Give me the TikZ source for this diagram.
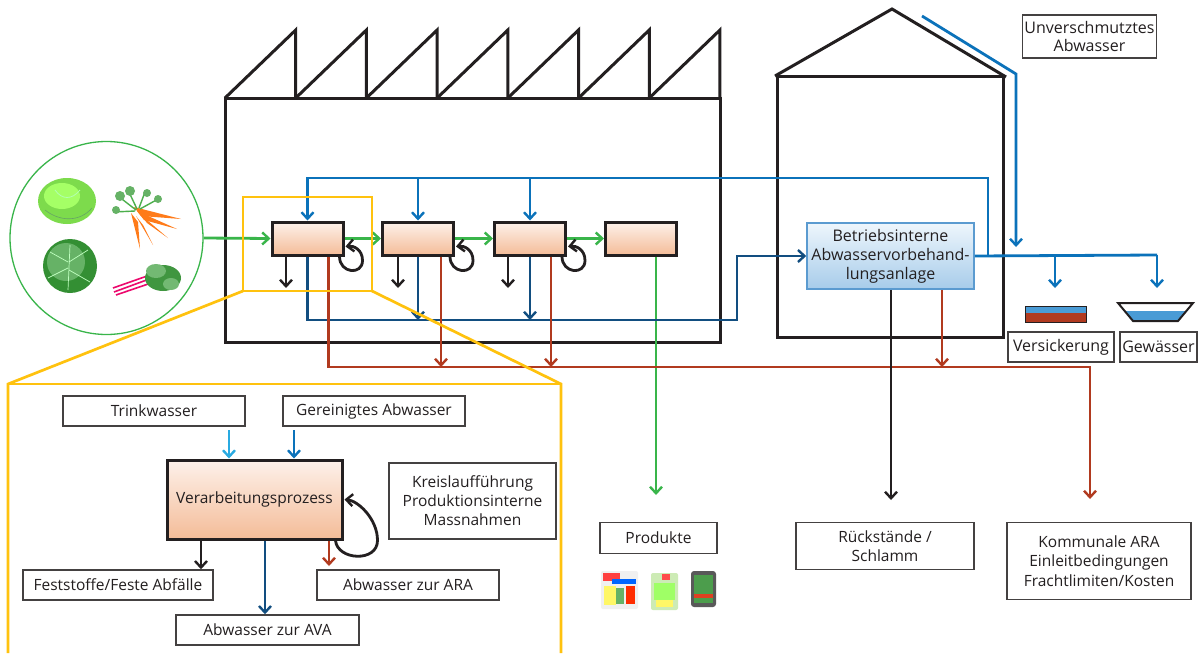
\documentclass[tikz,border=0pt]{standalone}
\usepackage{fontspec}
\setmainfont{Open Sans}
\usetikzlibrary{arrows.meta}
\definecolor{txt}{HTML}{231F20}
\definecolor{cgreen}{HTML}{39B54A}
\definecolor{cblue}{HTML}{0B72BA}
\definecolor{cdblue}{HTML}{124E80}
\definecolor{cred}{HTML}{B13A1F}
\definecolor{clblue}{HTML}{29AAE1}
\definecolor{cyellow}{HTML}{FFC20E}
\definecolor{ptop}{HTML}{FDF1EA}
\definecolor{pbot}{HTML}{F4BC98}
\definecolor{btop}{HTML}{EEF6FC}
\definecolor{bbot}{HTML}{A7CCEA}
\definecolor{bdraw}{HTML}{5B9BD0}
\definecolor{wblue}{HTML}{4A9BD5}
\tikzset{
  every node/.style={font=\fontsize{15.5}{19}\selectfont, text=txt},
  arr/.style={-{Straight Barb[length=6.5pt,width=12pt,line width=2.4pt]}},
  ln/.style={line width=2.8pt},
  grn/.style={ln, draw=cgreen},
  blu/.style={ln, draw=cblue},
  dbl/.style={ln, draw=cdblue},
  rd/.style={ln, draw=cred},
  blk/.style={ln, draw=txt},
  lbl/.style={ln, draw=clblue},
  bld/.style={line width=3pt, draw=txt, line join=miter},
  proc/.style={draw=txt, line width=3pt, top color=ptop, bottom color=pbot, minimum width=71, minimum height=33, inner sep=0pt},
  tbox/.style={draw=txt!85, line width=1.5pt, fill=white, inner sep=2pt, align=center},
  yel/.style={line width=2.7pt, draw=cyellow}
}
\begin{document}
\begin{tikzpicture}[x=1pt,y=-1pt]
\useasboundingbox (0,0) rectangle (1198,653);
\fill[white] (0,0) rectangle (1198,653);

% ---------- buildings ----------
\foreach \i in {0,...,6} {
  \draw[bld] ({225+70.71*\i},98) -- ({225+70.71*(\i+1)},30) -- ({225+70.71*(\i+1)},98);
}
\draw[bld] (225,98) rectangle (720,342);
\draw[bld] (777,76) rectangle (1003,337);
\draw[bld] (775,76) -- (892,9) -- (1006,77);

% ---------- vegetables ----------
\node[draw=cgreen, line width=1.3pt, circle, minimum size=193, inner sep=0pt] (veg) at (106.5,238) {};
% lettuce
\fill[green!55!lime!80!black!70] (67,201) ellipse (29 and 23);
\fill[green!45!lime!60] (62,196) ellipse (18 and 13);
\draw[green!30!white, line width=0.8pt] (55,190) .. controls (62,200) and (72,200) .. (80,190);
\draw[green!40!black!60, line width=0.6pt] (45,210) .. controls (60,222) and (80,222) .. (92,208);
% carrots
\foreach \dx/\dy/\ex/\ey in {0/0/181/219, 3/4/177/229, 6/7/168/238, 2/9/153/245, -3/6/140/249}{
  \fill[orange!85!red!90] ({134+\dx},{207+\dy}) -- ({141+\dx},{216+\dy}) -- (\ex,\ey) -- cycle;
}
\draw[green!55!black!70, line width=1.4pt] (136,210) -- (118,196) (137,209) -- (128,190) (139,208) -- (145,192) (140,209) -- (160,198) (135,211) -- (114,212);
\fill[green!50!black!60] (120,196) circle (5) (130,191) circle (5) (147,193) circle (4) (158,199) circle (4) (116,210) circle (4);
% savoy cabbage
\fill[green!45!black!80] (70,266) circle (27);
\fill[green!50!black!60] (66,262) circle (19);
\draw[green!25!white, line width=0.7pt] (70,245) -- (68,290) (68,262) -- (50,252) (68,268) -- (48,278) (69,262) -- (88,250) (69,270) -- (90,282);
% chard
\draw[magenta!70!red, line width=1.6pt] (114,292) -- (152,278) (116,295) -- (154,282) (113,288) -- (150,275);
\fill[green!45!black!75] (163,278) ellipse (18 and 13);
\fill[green!50!black!55] (156,271) ellipse (10 and 7) (171,284) ellipse (8 and 6);

% ---------- process boxes ----------
\node[proc] (p1) at (307.5,238.5) {};
\node[proc] (p2) at (418,238.5) {};
\node[proc] (p3) at (530,238.5) {};
\node[proc] (p4) at (641,238.5) {};

% green flow
\draw[grn,arr] (veg.east) -- (p1.west);
\draw[grn,arr] (p1.east) -- (p2.west);
\draw[grn,arr] (p2.east) -- (p3.west);
\draw[grn,arr] (p3.east) -- (p4.west);
\coordinate (prodArr) at (656,495);
\draw[grn,arr] (656,0 |- p4.south) -- (prodArr);

% self loops
\foreach \p in {p1,p2,p3}{
  \draw[blk,arr] ([xshift=-5pt]\p.south east)
     .. controls ([shift={(-5pt,-17pt)}]\p.south east) and ([shift={(18pt,-19pt)}]\p.south east)
     .. ([shift={(18pt,-4pt)}]\p.south east)
     .. controls ([shift={(18pt,7pt)}]\p.south east) and ([shift={(9pt,11pt)}]\p.south east)
     .. ([shift={(1pt,10pt)}]\p.south east);
}

% black solid waste arrows
\foreach \p/\x in {p1/286,p2/398,p3/508}{
  \draw[blk,arr] (\x,0 |- \p.south) -- (\x,288);
}

% ---------- Betriebsinterne box ----------
\node[draw=bdraw, line width=1.5pt, top color=btop, bottom color=bbot, minimum width=167, minimum height=66, inner sep=0pt, align=center, font=\fontsize{16}{19}\selectfont] (betr) at (890.5,256) {Betriebsinterne\\Abwasservorbehand-\\lungsanlage};

% dark blue collection
\draw[dbl,arr] (p1.south) |- (737,320) |- (betr.west);
\draw[dbl,arr] (p2.south) -- (p2.south |- 0,320);
\draw[dbl,arr] (p3.south) -- (p3.south |- 0,320);

% blue recycled water
\draw[blu,arr] (988,0 |- betr.east) -- (988,178) -- (307.5,178) -- (p1.north);
\draw[blu,arr] (418,178) -- (p2.north);
\draw[blu,arr] (530,178) -- (p3.north);

% outlet
\draw[blu] (betr.east) -- (1157,255);
\coordinate (versArr) at (1055,288);
\coordinate (gewArr) at (1157,288);
\draw[blu,arr] (1055,255) -- (versArr);
\draw[blu,arr] (1157,255) -- (gewArr);

% unpolluted
\node[tbox, minimum width=133, minimum height=43, font=\fontsize{16}{18.5}\selectfont] (unv) at (1089.5,36.5) {Unverschmutztes\\Abwasser};
\coordinate (unvArr) at (1016,247);
\draw[blu,arr] (922,16) -- (1016,74) -- (unvArr);

% icons
\fill[cred] (1025,313) rectangle (1086,322);
\fill[wblue] (1025,306) rectangle (1086,313);
\draw[txt, line width=1pt] (1025,306) rectangle (1086,322);
\fill[wblue] (1125,311) -- (1186,311) -- (1178,321) -- (1133,321) -- cycle;
\draw[txt, line width=2pt, line join=miter] (1118,303) -- (1193,303) -- (1178,321) -- (1133,321) -- cycle;

\node[tbox, minimum width=106, minimum height=30, font=\fontsize{16}{19}\selectfont] (vers) at (1061,347) {Versickerung};
\node[tbox, minimum width=77, minimum height=30, font=\fontsize{16}{19}\selectfont] (gew) at (1158.5,347) {Gewässer};

% red to ARA
\coordinate (r1) at ([xshift=21pt]p1.south);
\coordinate (r2) at ([xshift=23pt]p2.south);
\coordinate (r3) at ([xshift=21pt]p3.south);
\coordinate (komArr) at (1090,499);
\draw[rd,arr] (r1) |- (1090,367) -- (komArr);
\draw[rd,arr] (r2) -- (r2 |- 0,367);
\draw[rd,arr] (r3) -- (r3 |- 0,367);
\draw[rd,arr] (942,0 |- betr.south) -- (942,367);

% black to sludge
\coordinate (rueArr) at (891,500);
\draw[blk,arr] (891,0 |- betr.south) -- (rueArr);

% bottom right boxes
\node[tbox, minimum width=117, minimum height=31] (prod) at (658.5,538) {Produkte};
\node[tbox, minimum width=178, minimum height=47, font=\fontsize{15.5}{18.5}\selectfont] (rueck) at (885,546) {Rückstände /\\Schlamm};
\node[tbox, minimum width=184, minimum height=77, font=\fontsize{15.5}{19.5}\selectfont] (komm) at (1099,561) {Kommunale ARA\\Einleitbedingungen\\Frachtlimiten/Kosten};

% product packs
\fill[gray!12, rounded corners=2pt] (601,571) rectangle (638,609);
\fill[red!75] (603,573) rectangle (620,581);
\fill[blue!60!cyan] (612,579) rectangle (636,584);
\fill[yellow!60!white] (604,586) rectangle (616,605);
\fill[green!50!black!60] (616,588) rectangle (624,604);
\fill[red!65!orange] (626,586) rectangle (635,604);
\fill[yellow!35!green!30, rounded corners=2pt] (651,573) rectangle (678,610);
\fill[red!70] (662,574) rectangle (670,580);
\fill[green!50!lime!60] (654,583) rectangle (675,600);
\fill[yellow!60] (656,600) rectangle (673,607);
\fill[gray!70!black, rounded corners=3pt] (691,571) rectangle (716,607);
\fill[green!45!black!70] (694,575) rectangle (713,603);
\fill[red!50!brown] (694,594) rectangle (713,598);

% ---------- yellow zoom ----------
\draw[yel] (243,197) rectangle (372,291);
\draw[yel] (243,291) -- (8,384) -- (8,653);
\draw[yel] (372,291) -- (561,384) -- (561,653);
\draw[yel] (8,384) -- (561,384);

% ---------- inset ----------
\node[tbox, minimum width=182, minimum height=30] (trink) at (154,411) {Trinkwasser};
\node[tbox, minimum width=182, minimum height=30] (gerein) at (374,411) {Gereinigtes Abwasser};
\node[proc, minimum width=175, minimum height=79, align=center] (verarb) at (254.5,499.5) {Verarbeitungsprozess};
\node[tbox, minimum width=167, minimum height=76] (kreis) at (472.5,501) {Kreislaufführung\\Produktionsinterne\\Massnahmen};
\node[tbox, minimum width=190, minimum height=30] (fest) at (118,585) {Feststoffe/Feste Abfälle};
\node[tbox, minimum width=182, minimum height=30] (ara) at (408,585) {Abwasser zur ARA};
\node[tbox, minimum width=183, minimum height=30] (ava) at (267.5,630) {Abwasser zur AVA};

\draw[lbl,arr] (229,430) -- (229,0 |- verarb.north);
\draw[blu,arr] (294,430) -- (294,0 |- verarb.north);
\draw[blk,arr] (201,0 |- verarb.south) -- (201,0 |- fest.north);
\draw[dbl,arr] (265,0 |- verarb.south) -- (265,0 |- ava.north);
\draw[rd,arr] (329,0 |- verarb.south) -- (329,566);
\draw[blk,arr] ([xshift=-8pt]verarb.south east)
   .. controls ([shift={(-6pt,-20pt)}]verarb.south east) and ([shift={(34pt,-22pt)}]verarb.south east)
   .. ([shift={(34pt,0pt)}]verarb.south east)
   .. controls ([shift={(34pt,22pt)}]verarb.south east) and ([shift={(14pt,40pt)}]verarb.south east)
   .. ([xshift=1pt]verarb.east);
\end{tikzpicture}
\end{document}
